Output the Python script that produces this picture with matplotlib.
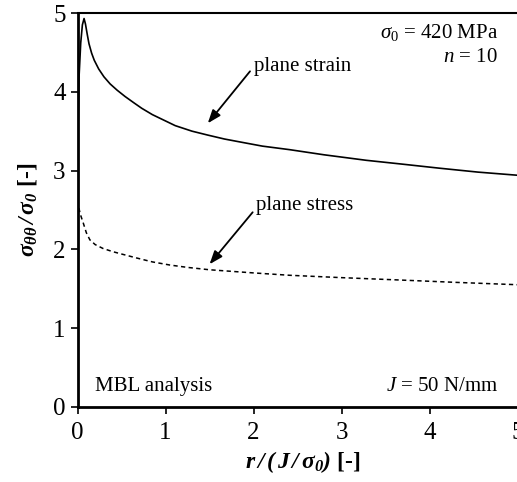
import matplotlib
matplotlib.use("Agg")
import matplotlib.pyplot as plt

plt.rcParams['font.family'] = ['Liberation Serif', 'DejaVu Serif']
plt.rcParams['mathtext.fontset'] = 'custom'
plt.rcParams['mathtext.rm'] = 'Liberation Serif'
plt.rcParams['mathtext.it'] = 'Liberation Serif:italic'
plt.rcParams['mathtext.bf'] = 'Liberation Serif:bold:italic'

# plane strain curve
strain_x = [0, 0.005, 0.017, 0.036, 0.055, 0.074, 0.09, 0.11, 0.13, 0.16, 0.19, 0.24,
            0.30, 0.37, 0.45, 0.54, 0.64, 0.73, 0.85, 0.98, 1.11, 1.3, 1.48, 1.67, 1.86,
            2.1, 2.41, 2.8, 3.28, 3.7, 4.11, 4.55, 5.0]
strain_y = [2.6, 3.5, 4.19, 4.62, 4.85, 4.93, 4.86, 4.73, 4.61, 4.49, 4.40, 4.29,
            4.19, 4.10, 4.02, 3.94, 3.86, 3.79, 3.71, 3.64, 3.57, 3.50, 3.45, 3.40, 3.36,
            3.31, 3.265, 3.20, 3.13, 3.08, 3.03, 2.98, 2.94]

# plane stress curve
stress_x = [0, 0.01, 0.03, 0.066, 0.1, 0.14, 0.2, 0.29, 0.4, 0.5, 0.67, 0.85, 1.05,
            1.25, 1.5, 2.0, 2.41, 3.0, 3.66, 4.3, 5.0]
stress_y = [2.62, 2.55, 2.45, 2.33, 2.21, 2.12, 2.06, 2.01, 1.97, 1.94, 1.89, 1.84, 1.80,
            1.77, 1.74, 1.70, 1.67, 1.64, 1.61, 1.58, 1.55]

ticks = [0, 1, 2, 3, 4, 5]

fig = plt.figure(figsize=(5.17, 4.82), dpi=100)
ax = fig.add_axes([0.150, 0.156, 0.851, 0.817])

ax.plot(strain_x, strain_y, color='black', lw=1.2)
ax.plot(stress_x, stress_y, color='black', lw=1.1, linestyle=(0, (2.8, 2.2)))

ax.set_xlim(0, 5)
ax.set_ylim(0, 5)
ax.set_xticks(ticks)
ax.set_yticks(ticks)
ax.tick_params(labelsize=18, length=5, width=1.2, direction='out')
ax.tick_params(axis='x', pad=6)
for s in ['left', 'bottom']:
    ax.spines[s].set_linewidth(2.0)
ax.spines['top'].set_linewidth(1.5)
ax.spines['right'].set_linewidth(0.8)
ax.spines['right'].set_color('#bbbbbb')

ax.set_xlabel(r'$\mathbf{r\,/\,(\,J\,/\,\sigma_0)}$ [-]', fontsize=17, fontweight='bold')
ax.xaxis.set_label_coords(0.513, -0.108)
ax.set_ylabel(r'$\mathbf{\sigma_{\theta\theta}\,/\,\sigma_0}$ [-]', fontsize=17, fontweight='bold', labelpad=10)

arrow = dict(arrowstyle='-|>,head_length=0.8,head_width=0.3', color='black', lw=1.3, shrinkA=0, shrinkB=0)
ax.annotate('', xy=(1.48, 3.60), xytext=(1.96, 4.26), arrowprops=arrow)
ax.annotate('', xy=(1.50, 1.81), xytext=(1.99, 2.47), arrowprops=arrow)
ax.text(2.01, 4.32, 'plane strain', fontsize=15, va='center', ha='left')
ax.text(2.03, 2.55, 'plane stress', fontsize=15, va='center', ha='left')

ax.text(4.78, 4.75, r'$\sigma_0$ = 420 MPa', fontsize=15, va='center', ha='right')
ax.text(4.78, 4.43, r'$n$ = 10', fontsize=15, va='center', ha='right')
ax.text(0.2, 0.26, 'MBL analysis', fontsize=15, va='center', ha='left')
ax.text(4.78, 0.26, r'$J$ = 50 N/mm', fontsize=15, va='center', ha='right')

fig.savefig('out.png', dpi=100)
